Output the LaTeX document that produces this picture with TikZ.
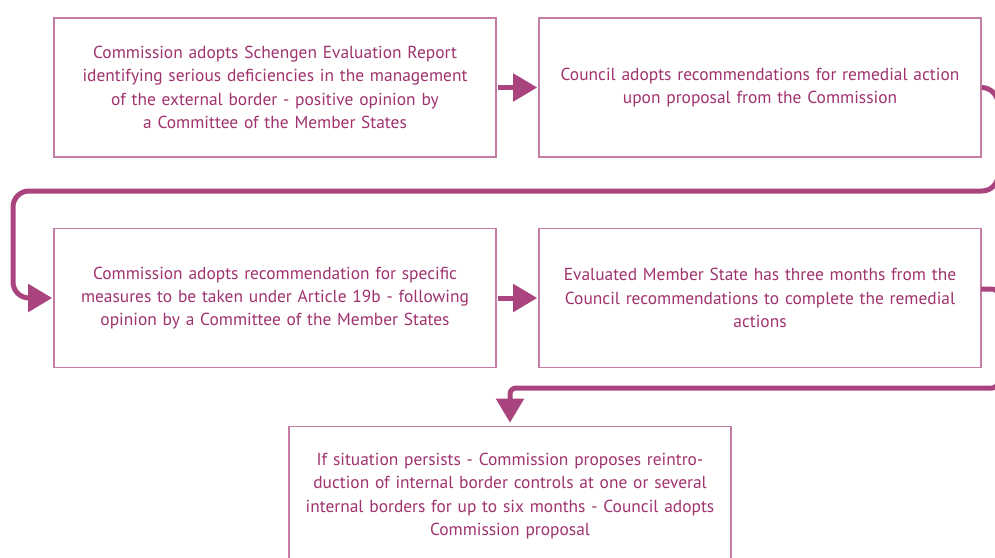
\documentclass[tikz,border=0pt]{standalone}
\usepackage{fontspec}
\setmainfont{PT Sans}
\usetikzlibrary{arrows.meta}
\definecolor{eclink}{HTML}{A9447F}
\definecolor{ectext}{HTML}{A0336F}
\definecolor{ecborder}{HTML}{C57CA5}
\tikzset{
  stepbox/.style={draw=ecborder, line width=1.6pt, fill=white, minimum width=442pt, minimum height=139pt,
    text width=436pt, align=center, text=ectext, font=\fontsize{17.4}{23.4}\selectfont, inner sep=0pt},
  flow/.style={draw=eclink, line width=5pt, -{Triangle[length=24pt,width=27pt]}, rounded corners=16pt}
}
\begin{document}
\begin{tikzpicture}[x=1pt,y=1pt]
\useasboundingbox (0,0) rectangle (995,-557);
\clip (0,0) rectangle (995,-557);
\fill[white] (0,0) rectangle (995,-557);
\node[stepbox] (b1) at (275,-87.5) {Commission adopts Schengen Evaluation Report\\identifying serious deficiencies in the management\\of the external border - positive opinion by\\a Committee of the Member States};
\node[stepbox] (b2) at (760,-87.5) {Council adopts recommendations for remedial action\\upon proposal from the Commission};
\node[stepbox] (b3) at (275,-298) {Commission adopts recommendation for specific\\measures to be taken under Article 19b - following\\opinion by a Committee of the Member States};
\node[stepbox] (b4) at (760,-298) {Evaluated Member State has three months from the\\Council recommendations to complete the remedial\\actions};
\node[stepbox] (b5) at (510,-496) {If situation persists - Commission proposes reintro-\\duction of internal border controls at one or several\\internal borders for up to six months - Council adopts\\Commission proposal};
\coordinate (c1) at (998,-88);
\coordinate (c2) at (998,-191);
\coordinate (c3) at (13,-191);
\coordinate (c4) at (13,-298);
\coordinate (s5) at (981,-289);
\coordinate (c5) at (998,-289);
\coordinate (c6) at (998,-388);
\coordinate (c7) at (510,-388);
\draw[flow, shorten <=1pt, shorten >=1pt] (b1.east) -- (b2.west);
\draw[flow, shorten >=1pt] (b2.east) -- (c1) -- (c2) -- (c3) -- (c4) -- (b3.west);
\draw[flow, shorten <=1pt, shorten >=1pt] (b3.east) -- (b4.west);
\draw[flow, rounded corners=6pt, shorten >=3pt] (s5) -- (c5) -- (c6) -- (c7) -- (b5.north);
\end{tikzpicture}
\end{document}
